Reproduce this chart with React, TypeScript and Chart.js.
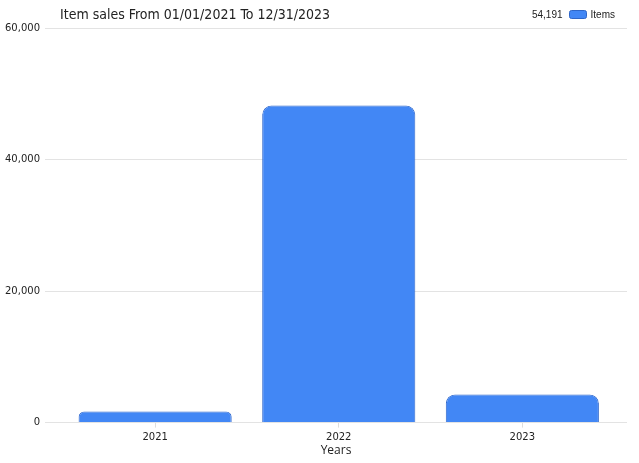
import React, { useEffect, useRef } from "react";
import { Chart, registerables } from "chart.js";

Chart.register(...registerables);

const categories = ["2021", "2022", "2023"];
const itemValues = [1700, 48200, 4291];
const totalLabel = "54,191";
const seriesLabel = "Items";
const chartTitle = "Item sales From 01/01/2021 To 12/31/2023";
const xTitle = "Years";

const headerPlugin = {
  id: "header",
  afterDraw(chart: any) {
    const ctx = chart.ctx;
    ctx.save();
    ctx.fillStyle = "#222";
    ctx.font = "14px 'DejaVu Sans Condensed', 'DejaVu Sans'";
    ctx.textBaseline = "middle";
    ctx.textAlign = "left";
    ctx.fillText(chartTitle, 60, 15);
    // legend at right
    ctx.font = "10px 'Liberation Sans'";
    const right = 615;
    const itemsW = ctx.measureText(seriesLabel).width;
    const boxW = 17;
    const boxH = 8;
    let x = right - itemsW;
    ctx.fillStyle = "#222";
    ctx.fillText(seriesLabel, x, 15);
    x -= 5 + boxW;
    ctx.fillStyle = "#4287f5";
    ctx.strokeStyle = "#2f66c8";
    ctx.lineWidth = 1;
    ctx.beginPath();
    (ctx as any).roundRect(Math.round(x) + 0.5, 10.5, boxW, boxH, 2);
    ctx.fill();
    ctx.stroke();
    const totW = ctx.measureText(totalLabel).width;
    ctx.fillStyle = "#222";
    ctx.fillText(totalLabel, x - 6 - totW, 15);
    ctx.restore();
  },
};

export default function App() {
  const ref = useRef<HTMLCanvasElement>(null);
  useEffect(() => {
    if (!ref.current) return;
    const chart = new Chart(ref.current, {
      type: "bar",
      data: {
        datasets: [
          {
            label: seriesLabel,
            data: itemValues.map((v, i) => ({ x: i, y: v })),
            backgroundColor: (c: any) => {
              const ch = c.chart;
              const el = c.element;
              if (!ch.chartArea || !el) return "#4287f5";
              const props = el.getProps(["x", "width"], true);
              const x0 = props.x - props.width / 2;
              const x1 = props.x + props.width / 2;
              if (!isFinite(x0) || !isFinite(x1)) return "#4287f5";
              const g = ch.ctx.createLinearGradient(x0, 0, x1, 0);
              g.addColorStop(0, "#4589f8");
              g.addColorStop(0.5, "#4286f3");
              g.addColorStop(1, "#3a7be0");
              return g;
            },
            borderColor: "#3269cc",
            borderWidth: 1,
            borderSkipped: "bottom",
            borderRadius: { topLeft: 9, topRight: 9, bottomLeft: 0, bottomRight: 0 },
            barPercentage: 0.834,
            categoryPercentage: 1,
          },
        ],
      },
      options: {
        animation: false,
        responsive: true,
        maintainAspectRatio: false,
        parsing: false as any,
        layout: { padding: { top: 28, right: 12, left: 0, bottom: 5 } },
        plugins: {
          legend: { display: false },
          title: { display: false },
          tooltip: { enabled: false },
        },
        scales: {
          x: {
            type: "linear",
            offset: false,
            min: -0.6,
            max: 2.57,
            afterBuildTicks: (axis: any) => {
              axis.ticks = categories.map((_, i) => ({ value: i }));
            },
            grid: {
              offset: false,
              drawOnChartArea: false,
              drawTicks: true,
              tickLength: 5,
              color: "#dddddd",
            },
            border: { display: false },
            ticks: {
              color: "#222",
              font: { family: "'DejaVu Sans'", size: 10 },
              padding: 4,
              autoSkip: false,
              maxRotation: 0,
              callback: (v: any) => categories[Math.round(Number(v))] ?? "",
            },
            title: {
              display: true,
              text: xTitle,
              color: "#222",
              font: { family: "'Open Sans'", size: 12 },
              padding: { top: -4, bottom: 0 },
            },
          },
          y: {
            min: 0,
            max: 60000,
            grid: { color: "#e3e3e3", drawTicks: false },
            border: { display: false },
            ticks: {
              stepSize: 20000,
              padding: 5,
              color: "#222",
              font: { family: "'DejaVu Sans'", size: 10 },
              callback: (v: any) => Number(v).toLocaleString("en-US"),
            },
          },
        },
      },
      plugins: [headerPlugin],
    });
    return () => chart.destroy();
  }, []);
  return (
    <div style={{ position: "fixed", left: 0, top: 0, width: 639, height: 463, background: "#fff" }}>
      <canvas ref={ref} />
    </div>
  );
}
